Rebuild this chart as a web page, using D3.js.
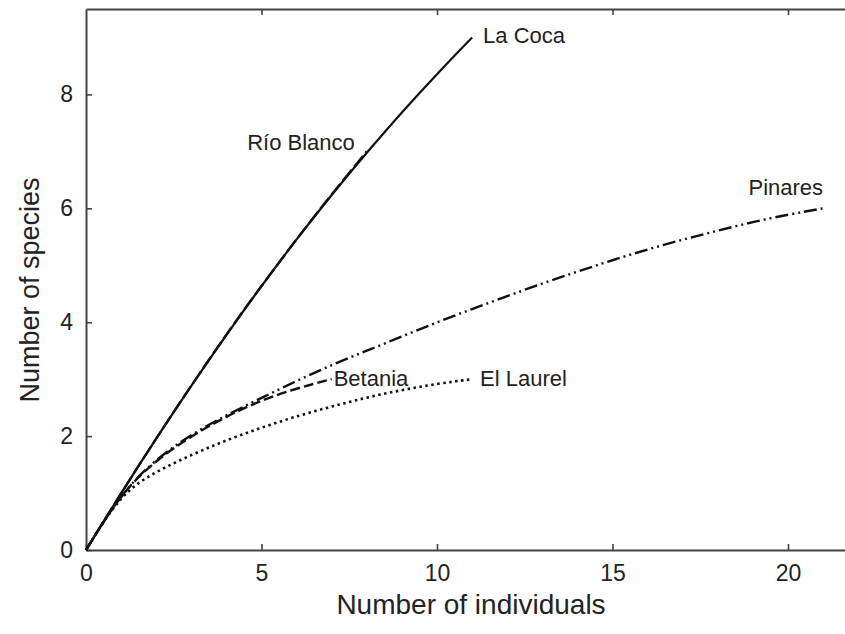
<!DOCTYPE html>
<html>
<head>
<meta charset="utf-8">
<script src="https://cdn.jsdelivr.net/npm/d3@7"></script>
<style>
  body { margin: 0; background: #fff; }
  text { font-family: "Liberation Sans", Arial, sans-serif; fill: #222; }
</style>
</head>
<body>
<div id="graph"></div>
<script>
// Rarefaction curves, values
const laCoca    = [0, 1, 1.96, 2.89, 3.78, 4.64, 5.46, 6.24, 6.98, 7.69, 8.36, 9];
const rioBlanco = [0, 1, 1.96, 2.89, 3.79, 4.64, 5.46, 6.25, 7];
const pinares   = [0, 1, 1.6, 2.03, 2.37, 2.67, 2.97, 3.25, 3.5, 3.75, 4.0, 4.23, 4.46, 4.68, 4.89, 5.09, 5.28, 5.45, 5.61, 5.76, 5.89, 6];
const betania   = [0, 1, 1.58, 2.0, 2.35, 2.63, 2.84, 3.0];
const elLaurel  = [0, 1, 1.38, 1.67, 1.93, 2.15, 2.35, 2.52, 2.68, 2.81, 2.92, 3.0];

const xTicks = [0, 5, 10, 15, 20];
const yTicks = [0, 2, 4, 6, 8];

const series = [
  { name: "La Coca",    values: laCoca,    dash: null,             width: 2.2, label: { dx: 11,  dy: 0,   anchor: "start" } },
  { name: "Río Blanco", values: rioBlanco, dash: "14,4",           width: 2.4, label: { dx: -12, dy: -7,  anchor: "end" } },
  { name: "Pinares",    values: pinares,   dash: "13,4,2,4,2,4",   width: 2.4, label: { dx: 0,   dy: -19, anchor: "end" } },
  { name: "Betania",    values: betania,   dash: "10,4",           width: 2.4, label: { dx: 2,   dy: 1,   anchor: "start" } },
  { name: "El Laurel",  values: elLaurel,  dash: "2.5,3.5",        width: 2.6, label: { dx: 8,   dy: 1,   anchor: "start" } }
];

const W = 845, H = 634;
const plotLeft = 86, plotTop = 9, plotBottom = 550;

const svg = d3.select("#graph")
  .append("svg")
  .attr("width", W)
  .attr("height", H);

const x = d3.scaleLinear().domain([0, 22]).range([plotLeft, plotLeft + 22 * 35.1]);
const y = d3.scaleLinear().domain([0, 9.5]).range([plotBottom, plotTop]);

const axisColor = "#444";

function styleAxis(g) {
  g.select(".domain").attr("stroke", axisColor).attr("stroke-width", 2);
  g.selectAll(".tick line").attr("stroke", axisColor).attr("stroke-width", 1.6);
  g.selectAll(".tick text")
    .style("font-family", "'Liberation Sans', Arial, sans-serif")
    .style("font-size", "23px")
    .attr("fill", "#222");
}

// bottom axis
svg.append("g")
  .attr("transform", `translate(0,${plotBottom})`)
  .call(d3.axisBottom(x).tickValues(xTicks).tickSizeInner(-6).tickSizeOuter(0).tickPadding(15))
  .call(styleAxis);

// top axis (ticks only)
svg.append("g")
  .attr("transform", `translate(0,${plotTop})`)
  .call(d3.axisTop(x).tickValues(xTicks.slice(1)).tickSizeInner(-6).tickSizeOuter(0).tickFormat(""))
  .call(styleAxis);

// left axis
svg.append("g")
  .attr("transform", `translate(${plotLeft},0)`)
  .call(d3.axisLeft(y).tickValues(yTicks).tickSizeInner(-6).tickSizeOuter(0).tickPadding(13))
  .call(styleAxis);

// right axis (falls outside the visible area)
svg.append("g")
  .attr("transform", `translate(${x(22)},0)`)
  .call(d3.axisRight(y).tickValues(yTicks).tickSizeInner(-6).tickSizeOuter(0).tickFormat(""))
  .call(styleAxis);

const line = d3.line()
  .x((d, i) => x(i))
  .y(d => y(d))
  .curve(d3.curveBasis);

// curves
svg.selectAll(".curve")
  .data(series)
  .join("path")
  .attr("class", "curve")
  .attr("fill", "none")
  .attr("stroke", "#111")
  .attr("stroke-width", d => d.width)
  .attr("stroke-dasharray", d => d.dash)
  .attr("d", d => line(d.values));

// curve labels
svg.selectAll(".curve-label")
  .data(series)
  .join("text")
  .attr("class", "curve-label")
  .attr("x", d => x(d.values.length - 1) + d.label.dx)
  .attr("y", d => y(d.values[d.values.length - 1]) + d.label.dy)
  .attr("text-anchor", d => d.label.anchor)
  .attr("dominant-baseline", "middle")
  .style("font-size", "22px")
  .text(d => d.name);

// axis titles
svg.append("text")
  .attr("x", 471)
  .attr("y", 614)
  .attr("text-anchor", "middle")
  .style("font-size", "28px")
  .text("Number of individuals");

svg.append("text")
  .attr("transform", "rotate(-90)")
  .attr("x", -290)
  .attr("y", 39)
  .attr("text-anchor", "middle")
  .style("font-size", "27px")
  .text("Number of species");
</script>
</body>
</html>
